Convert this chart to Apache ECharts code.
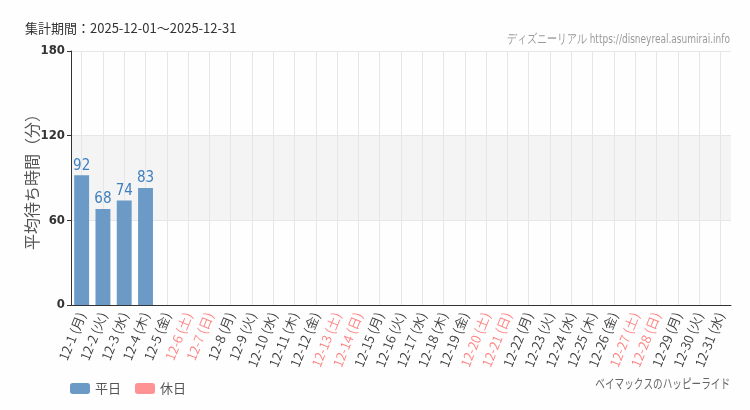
<!DOCTYPE html>
<html>
<head>
<meta charset="utf-8">
<script src="https://cdn.jsdelivr.net/npm/echarts@6/dist/echarts.min.js"></script>
<style>
  html, body { margin: 0; padding: 0; background: #fdfefd; }
  #chart { width: 750px; height: 410px; }
</style>
</head>
<body>
<div id="chart"></div>
<script>
// 日付と曜日
var days = ['12-1', '12-2', '12-3', '12-4', '12-5', '12-6', '12-7', '12-8', '12-9', '12-10',
    '12-11', '12-12', '12-13', '12-14', '12-15', '12-16', '12-17', '12-18', '12-19', '12-20',
    '12-21', '12-22', '12-23', '12-24', '12-25', '12-26', '12-27', '12-28', '12-29', '12-30', '12-31'];
var weekdays = ['月', '火', '水', '木', '金', '土', '日', '月', '火', '水',
    '木', '金', '土', '日', '月', '火', '水', '木', '金', '土',
    '日', '月', '火', '水', '木', '金', '土', '日', '月', '火', '水'];
// 休日フラグ
var holidays = [0, 0, 0, 0, 0, 1, 1, 0, 0, 0,
    0, 0, 1, 1, 0, 0, 0, 0, 0, 1,
    1, 0, 0, 0, 0, 0, 1, 1, 0, 0, 0];
// 平均待ち時間
var weekdayWait = [92, 68, 74, 83, null, null, null, null, null, null,
    null, null, null, null, null, null, null, null, null, null,
    null, null, null, null, null, null, null, null, null, null, null];
var holidayWait = [null, null, null, null, null, null, null, null, null, null,
    null, null, null, null, null, null, null, null, null, null,
    null, null, null, null, null, null, null, null, null, null, null];
var yTicks = [0, 60, 120, 180];

var categories = [];
for (var i = 0; i < days.length; i++) {
    categories.push(days[i] + ' (' + weekdays[i] + ')');
}

var narrow = 'DejaVu Sans Condensed, DejaVu Sans, sans-serif';
var chart = echarts.init(document.getElementById('chart'));
var labelStyle = {
    show: true,
    position: 'top',
    distance: 2,
    color: '#3f7fbf',
    fontSize: 15,
    fontFamily: narrow
};

var option = {
    backgroundColor: '#fdfefd',
    animation: false,
    title: {
        text: '集計期間：2025-12-01～2025-12-31',
        left: 20, top: 17,
        textStyle: { fontSize: 13, fontWeight: 'normal', color: '#333', fontFamily: 'Noto Sans CJK JP' }
    },
    // 細い文字は横に縮めて描く
    graphic: [
        {
            type: 'text', x: 730, y: 33, scaleX: 0.77,
            style: {
                text: 'ディズニーリアル https://disneyreal.asumirai.info',
                textAlign: 'right', fill: '#9a9a9a', fontSize: 13, fontFamily: narrow
            }
        },
        {
            type: 'text', x: 730, y: 377, scaleX: 0.74,
            style: {
                text: 'ベイマックスのハッピーライド',
                textAlign: 'right', fill: '#666', fontSize: 13, fontFamily: 'Noto Sans CJK JP'
            }
        }
    ],
    legend: {
        left: 65, top: 377,
        itemWidth: 20, itemHeight: 11, itemGap: 14,
        textStyle: { fontSize: 13, color: '#555', fontFamily: 'Noto Sans CJK JP' },
        data: ['平日', '休日']
    },
    grid: { left: 71, right: 19, top: 51, bottom: 105 },
    xAxis: {
        type: 'category',
        data: categories,
        axisLine: { lineStyle: { color: '#333' } },
        axisTick: { alignWithLabel: true, length: 5, lineStyle: { color: '#333' } },
        splitLine: { show: true, alignWithLabel: true, lineStyle: { color: '#e6e6e6' } },
        axisLabel: {
            interval: 0,
            rotate: 68,
            margin: 8,
            fontSize: 13,
            fontWeight: 350,
            fontFamily: 'Noto Sans CJK JP',
            color: function (value, index) {
                return holidays[index] ? '#ff8080' : '#3a3a3a';
            }
        }
    },
    yAxis: {
        type: 'value',
        min: yTicks[0],
        max: yTicks[yTicks.length - 1],
        interval: 60,
        name: '平均待ち時間（分）',
        nameLocation: 'middle',
        nameGap: 31,
        nameMoveOverlap: false,
        nameTextStyle: { fontSize: 16, color: '#555', fontFamily: 'Noto Sans CJK JP' },
        axisLine: { show: true, lineStyle: { color: '#333' } },
        axisTick: { show: true, length: 4, lineStyle: { color: '#333' } },
        axisLabel: { fontSize: 13, fontWeight: 'bold', color: '#333', fontFamily: narrow, margin: 6 },
        splitLine: { lineStyle: { color: '#e6e6e6' } },
        splitArea: { show: true, areaStyle: { color: ['rgba(0,0,0,0)', '#f3f4f3', 'rgba(0,0,0,0)'] } }
    },
    series: [
        {
            name: '平日',
            type: 'bar',
            stack: 'wait',
            barWidth: '70%',
            itemStyle: { color: '#6b9ac7' },
            label: labelStyle,
            data: weekdayWait
        },
        {
            name: '休日',
            type: 'bar',
            stack: 'wait',
            barWidth: '70%',
            itemStyle: { color: '#ff9393' },
            label: labelStyle,
            data: holidayWait
        }
    ]
};

chart.setOption(option);
</script>
</body>
</html>
